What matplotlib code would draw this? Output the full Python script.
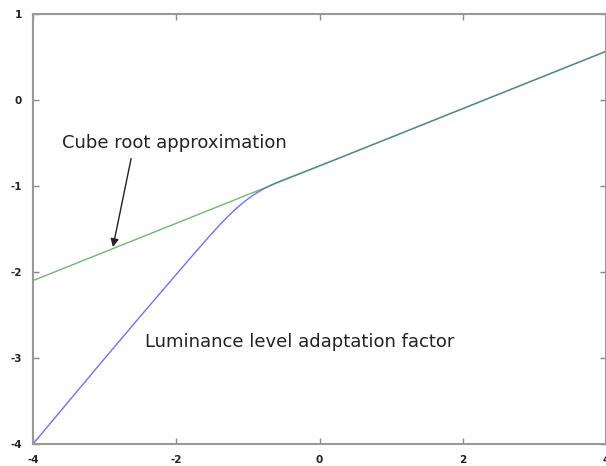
import matplotlib.pyplot as plt

plt.rcParams["axes.unicode_minus"] = False

# log10 of the luminance level adaptation factor F_L against log10 L_A
lum_x = [-4.0, -3.5, -3.0, -2.5, -2.0, -1.75, -1.5, -1.375, -1.25, -1.125,
         -1.0, -0.875, -0.75, -0.625, -0.5, 0.0, 1.0, 2.0, 3.0, 4.0]
lum_y = [-4.0, -3.502, -3.006, -2.514, -2.028, -1.786, -1.549, -1.436, -1.330, -1.234,
         -1.150, -1.079, -1.020, -0.970, -0.927, -0.766, -0.434, -0.100, 0.233, 0.566]

# cube root approximation, a straight line in log-log
cube_x = [-4.0, 4.0]
cube_y = [-2.100, 0.566]

x_ticks = [-4, -2, 0, 2, 4]
y_ticks = [-4, -3, -2, -1, 0, 1]

fig = plt.figure(figsize=(6.06, 4.66), dpi=100)
ax = fig.add_axes([33 / 606, 22 / 466, 573 / 606, 430 / 466])

ax.plot(lum_x, lum_y, color="#7070ff", linewidth=1.0)
ax.plot(cube_x, cube_y, color="#40a040", linewidth=1.0, alpha=0.75)

ax.set_xlim(-4, 4)
ax.set_ylim(-4, 1)
ax.set_xticks(x_ticks)
ax.set_yticks(y_ticks)
ax.tick_params(direction="in", length=4, width=1, color="#888888",
               labelsize=7.5, labelcolor="#222222", top=True, right=True, pad=8)
for lbl in ax.get_xticklabels() + ax.get_yticklabels():
    lbl.set_fontweight("bold")
for sp in ax.spines.values():
    sp.set_color("#999999")
    sp.set_linewidth(1.5)

ax.text(-3.595, -0.5, "Cube root approximation", fontsize=13, color="#222222",
        va="center", ha="left")
ax.text(-2.437, -2.814, "Luminance level adaptation factor", fontsize=13,
        color="#222222", va="center", ha="left")
ax.annotate("", xy=(-2.884, -1.71), xytext=(-2.63, -0.68),
            arrowprops=dict(arrowstyle="-|>", color="#222222", lw=1.0,
                            mutation_scale=12, shrinkA=0, shrinkB=0))

fig.savefig("out.png", dpi=100)
